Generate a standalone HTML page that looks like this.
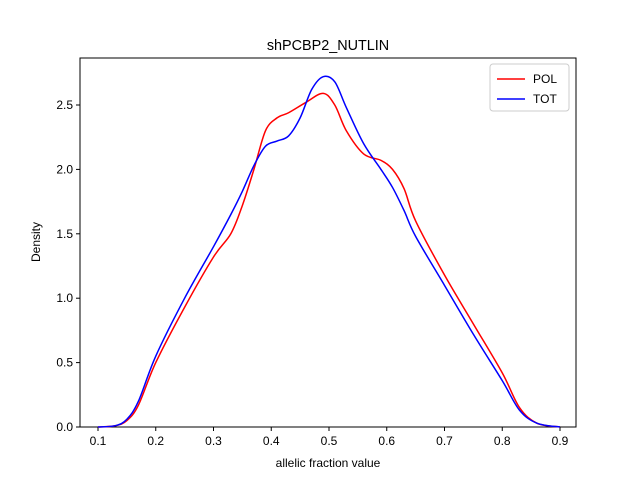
<!DOCTYPE html>
<html><head><meta charset="utf-8"><style>body{margin:0;background:#fff}svg{display:block;font-family:"Liberation Sans","DejaVu Sans",sans-serif}</style></head>
<body>
<svg id="chart" width="640" height="480"></svg>
<script>
const xTicks=[0.1,0.2,0.3,0.4,0.5,0.6,0.7,0.8,0.9];
const yTicks=[0,0.5,1.0,1.5,2.0,2.5];
const polX=[0.1,0.13,0.15,0.17,0.2,0.25,0.3,0.33,0.35,0.37,0.39,0.41,0.43,0.46,0.49,0.51,0.53,0.56,0.59,0.61,0.63,0.65,0.7,0.75,0.8,0.83,0.86,0.9];
const polY=[0,0.01,0.05,0.17,0.5,0.93,1.32,1.5,1.72,2.0,2.3,2.4,2.44,2.52,2.59,2.5,2.3,2.12,2.07,2.0,1.85,1.6,1.18,0.8,0.42,0.15,0.03,0];
const totX=[0.1,0.13,0.15,0.17,0.2,0.25,0.3,0.33,0.35,0.37,0.39,0.41,0.43,0.45,0.47,0.49,0.51,0.53,0.56,0.59,0.61,0.63,0.65,0.7,0.75,0.8,0.83,0.86,0.9];
const totY=[0,0.01,0.06,0.2,0.55,1.0,1.4,1.65,1.83,2.03,2.18,2.22,2.26,2.4,2.62,2.72,2.68,2.48,2.2,2.0,1.86,1.68,1.48,1.1,0.72,0.36,0.13,0.03,0];
const svg=document.getElementById('chart');
const NS='http://www.w3.org/2000/svg';
const L=80,R=576,T=58,B=427;
const xs=v=>98+(v-0.1)*577.5;
const ys=v=>427-v*128.8;
function mk(t,a,p){const e=document.createElementNS(NS,t);for(const k in a)e.setAttribute(k,a[k]);(p||svg).appendChild(e);return e;}
const frame=mk('rect',{x:L,y:T,width:R-L,height:B-T,fill:'none',stroke:'#000','stroke-width':1});


xTicks.forEach(v=>{const x=xs(v);
 const l=mk('line',{x1:x,x2:x,y1:B,y2:B+4,stroke:'#000'});
 
 
 const t=mk('text',{x:x,y:B+18,'text-anchor':'middle','font-size':12});t.textContent=v.toFixed(1);
 
 });
yTicks.forEach(v=>{const y=ys(v);
 const l=mk('line',{x1:L-4,x2:L,y1:y,y2:y,stroke:'#000'});
 
 
 const t=mk('text',{x:L-7,y:y+4,'text-anchor':'end','font-size':12});t.textContent=v.toFixed(1);
 
 });
function path(X,Y){const p=X.map((x,i)=>[xs(x),ys(Y[i])]);let d='M'+p[0][0]+','+p[0][1];
 for(let i=0;i<p.length-1;i++){const p0=p[i-1]||p[i],p1=p[i],p2=p[i+1],p3=p[i+2]||p2;
 const c1=[p1[0]+(p2[0]-p0[0])/6,p1[1]+(p2[1]-p0[1])/6],c2=[p2[0]-(p3[0]-p1[0])/6,p2[1]-(p3[1]-p1[1])/6];
 d+=`C${c1[0]},${c1[1]} ${c2[0]},${c2[1]} ${p2[0]},${p2[1]}`;}return d;}
const pl=mk('path',{d:path(polX,polY),fill:'none',stroke:'#ff0000','stroke-width':1.5});


const tl=mk('path',{d:path(totX,totY),fill:'none',stroke:'#0000ff','stroke-width':1.5});


const title=mk('text',{x:328,y:50,'text-anchor':'middle','font-size':14.4});title.textContent='shPCBP2_NUTLIN';


const xl=mk('text',{x:328,y:467,'text-anchor':'middle','font-size':12});xl.textContent='allelic fraction value';


const yl=mk('text',{x:40,y:242,'text-anchor':'middle','font-size':12,transform:'rotate(-90 40 242)'});yl.textContent='Density';


const lg=mk('g',{});


mk('rect',{x:490,y:64,width:79,height:47,rx:3,fill:'#fff',stroke:'#ccc'},lg);
[['POL','#ff0000',79],['TOT','#0000ff',99]].forEach(([n,c,y])=>{
 const e=mk('line',{x1:497,x2:525,y1:y,y2:y,stroke:c,'stroke-width':1.5},lg);
 
 
 const t=mk('text',{x:533,y:y+4,'font-size':12},lg);t.textContent=n;
 
 });
</script>
</body></html>
